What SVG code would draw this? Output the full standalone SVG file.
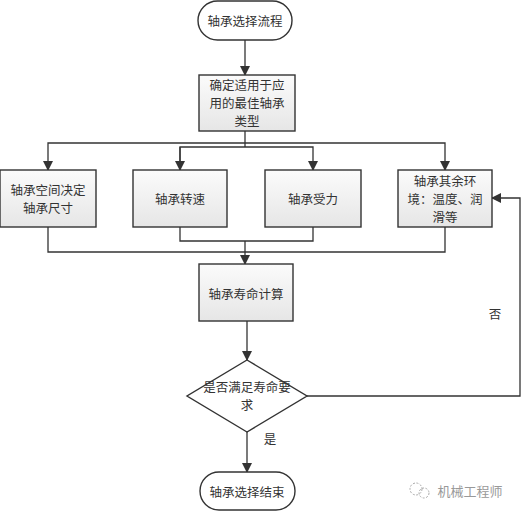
<svg xmlns="http://www.w3.org/2000/svg" width="522" height="513" viewBox="0 0 522 513">
<style>
.box{fill:url(#g);stroke:#333;stroke-width:1.4}
.term{fill:#fff;stroke:#333;stroke-width:1.4}
.ln{fill:none;stroke:#333;stroke-width:1.3}
text{font-family:"Noto Sans CJK SC","Noto Sans",sans-serif;font-size:12.5px;fill:#333;text-anchor:middle;dominant-baseline:central}
.wm{fill:#999;font-size:13px}
</style>
<defs>
<linearGradient id="g" x1="0" y1="0" x2="0" y2="1"><stop offset="0" stop-color="#fbfbfb"/><stop offset="1" stop-color="#e6e6e6"/></linearGradient>
<marker id="a" markerWidth="10" markerHeight="10" refX="9" refY="5" orient="auto" markerUnits="userSpaceOnUse"><path d="M0,0 L10,5 L0,10 Z" fill="#333"/></marker>
</defs>
<rect width="522" height="513" fill="#fff"/>
<g id="connectors">
<path class="ln" d="M245,40 V75" marker-end="url(#a)"/>
<path class="ln" d="M245,131 V147"/>
<path class="ln" d="M245,143 H48 V170" marker-end="url(#a)"/>
<path class="ln" d="M245,143 H445 V170" marker-end="url(#a)"/>
<path class="ln" d="M180,170 V147 H313 V170" marker-end="url(#a)"/>
<path class="ln" d="M180,147 V170" marker-end="url(#a)"/>
<path class="ln" d="M48,227 V252 H445 V227"/>
<path class="ln" d="M180,227 V241 H313 V227"/>
<path class="ln" d="M245,241 V264" marker-end="url(#a)"/>
<path class="ln" d="M247,321 V360" marker-end="url(#a)"/>
<path class="ln" d="M307,396 H520 V198 H492" marker-end="url(#a)"/>
<path class="ln" d="M247,432 V472" marker-end="url(#a)"/>
<text x="495" y="313">否</text>
<text x="270" y="438">是</text>
</g>
<g id="start"><rect class="term" x="198" y="1" width="94" height="39" rx="19.5"/><text x="245" y="20">轴承选择流程</text></g>
<g id="type"><rect class="box" x="199" y="75" width="96" height="56"/><text x="247" y="84">确定适用于应</text><text x="247" y="102">用的最佳轴承</text><text x="247" y="120">类型</text></g>
<g id="space"><rect class="box" x="0" y="170" width="96" height="57"/><text x="48" y="189">轴承空间决定</text><text x="48" y="207">轴承尺寸</text></g>
<g id="speed"><rect class="box" x="133" y="170" width="94" height="57"/><text x="180" y="198">轴承转速</text></g>
<g id="load"><rect class="box" x="265" y="170" width="96" height="57"/><text x="313" y="198">轴承受力</text></g>
<g id="env"><rect class="box" x="398" y="170" width="94" height="57"/><text x="445" y="180">轴承其余环</text><text x="445" y="198">境：温度、润</text><text x="445" y="216">滑等</text></g>
<g id="life"><rect class="box" x="199" y="264" width="94" height="57"/><text x="246" y="293">轴承寿命计算</text></g>
<g id="check"><path class="term" d="M247,360 L307,396 L247,432 L187,396 Z"/><text x="247" y="386">是否满足寿命要</text><text x="247" y="404">求</text></g>
<g id="end"><rect class="term" x="200" y="472" width="95" height="38" rx="19"/><text x="247" y="491">轴承选择结束</text></g>
<g id="watermark"><circle cx="416" cy="489" r="6" fill="none" stroke="#aaa" stroke-dasharray="2,1.5"/><circle cx="424" cy="493" r="5" fill="none" stroke="#aaa" stroke-dasharray="2,1.5"/><text class="wm" x="470" y="490">机械工程师</text></g>
</svg>
